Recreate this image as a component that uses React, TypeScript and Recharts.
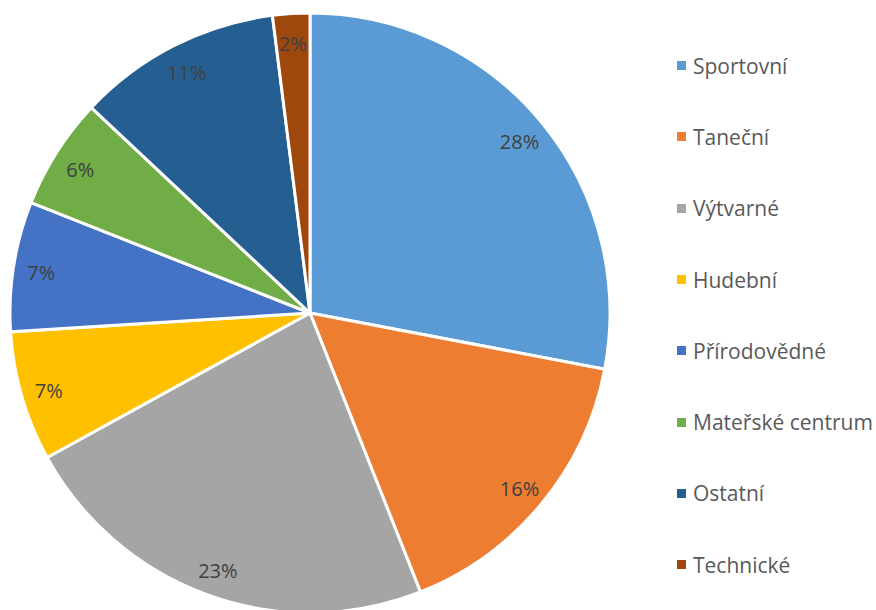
import { PieChart, Pie, Cell } from 'recharts';

const categories = ['Sportovní', 'Taneční', 'Výtvarné', 'Hudební', 'Přírodovědné', 'Mateřské centrum', 'Ostatní', 'Technické'];
const shares = [28, 16, 23, 7, 7, 6, 11, 2];
const colors = ['#5B9BD5', '#ED7D31', '#A5A5A5', '#FFC000', '#4472C4', '#70AD47', '#255E91', '#9E480E'];

const data = categories.map((name, i) => ({ name, value: shares[i] }));
const total = shares.reduce((s, v) => s + v, 0);

const RAD = Math.PI / 180;
const FONT = '"Open Sans", "Noto Sans", sans-serif';

function renderLabel(props: any) {
  const { cx, cy, midAngle, value } = props;
  const r = 272;
  const x = cx + r * Math.cos(-midAngle * RAD);
  const y = cy + r * Math.sin(-midAngle * RAD) + 2;
  return (
    <text x={x} y={y} fill="#404040" fontSize={20} fontFamily={FONT} textAnchor="middle" dominantBaseline="central">
      {Math.round((value / total) * 100)}%
    </text>
  );
}

function LegendList() {
  return (
    <div style={{ position: 'absolute', left: 677, top: 30 }}>
      {categories.map((name, i) => (
        <div key={name} style={{ display: 'flex', alignItems: 'center', height: 71.3 }}>
          <span style={{ width: 9, height: 9, background: colors[i], display: 'inline-block', marginRight: 7 }} />
          <span style={{ fontFamily: FONT, fontSize: 21, color: '#595959', whiteSpace: 'nowrap' }}>{name}</span>
        </div>
      ))}
    </div>
  );
}

export default function App() {
  return (
    <div style={{ position: 'absolute', left: 0, top: 0, width: 876, height: 610, background: '#fff' }}>
      <PieChart width={876} height={610} margin={{ top: 0, right: 0, bottom: 0, left: 0 }}>
        <Pie
          data={data}
          dataKey="value"
          nameKey="name"
          cx={310}
          cy={313}
          outerRadius={300}
          startAngle={90}
          endAngle={-270}
          stroke="#fff"
          strokeWidth={3}
          label={renderLabel}
          labelLine={false}
          isAnimationActive={false}
        >
          {data.map((d, i) => (
            <Cell key={d.name} fill={colors[i]} />
          ))}
        </Pie>
      </PieChart>
      <LegendList />
    </div>
  );
}
